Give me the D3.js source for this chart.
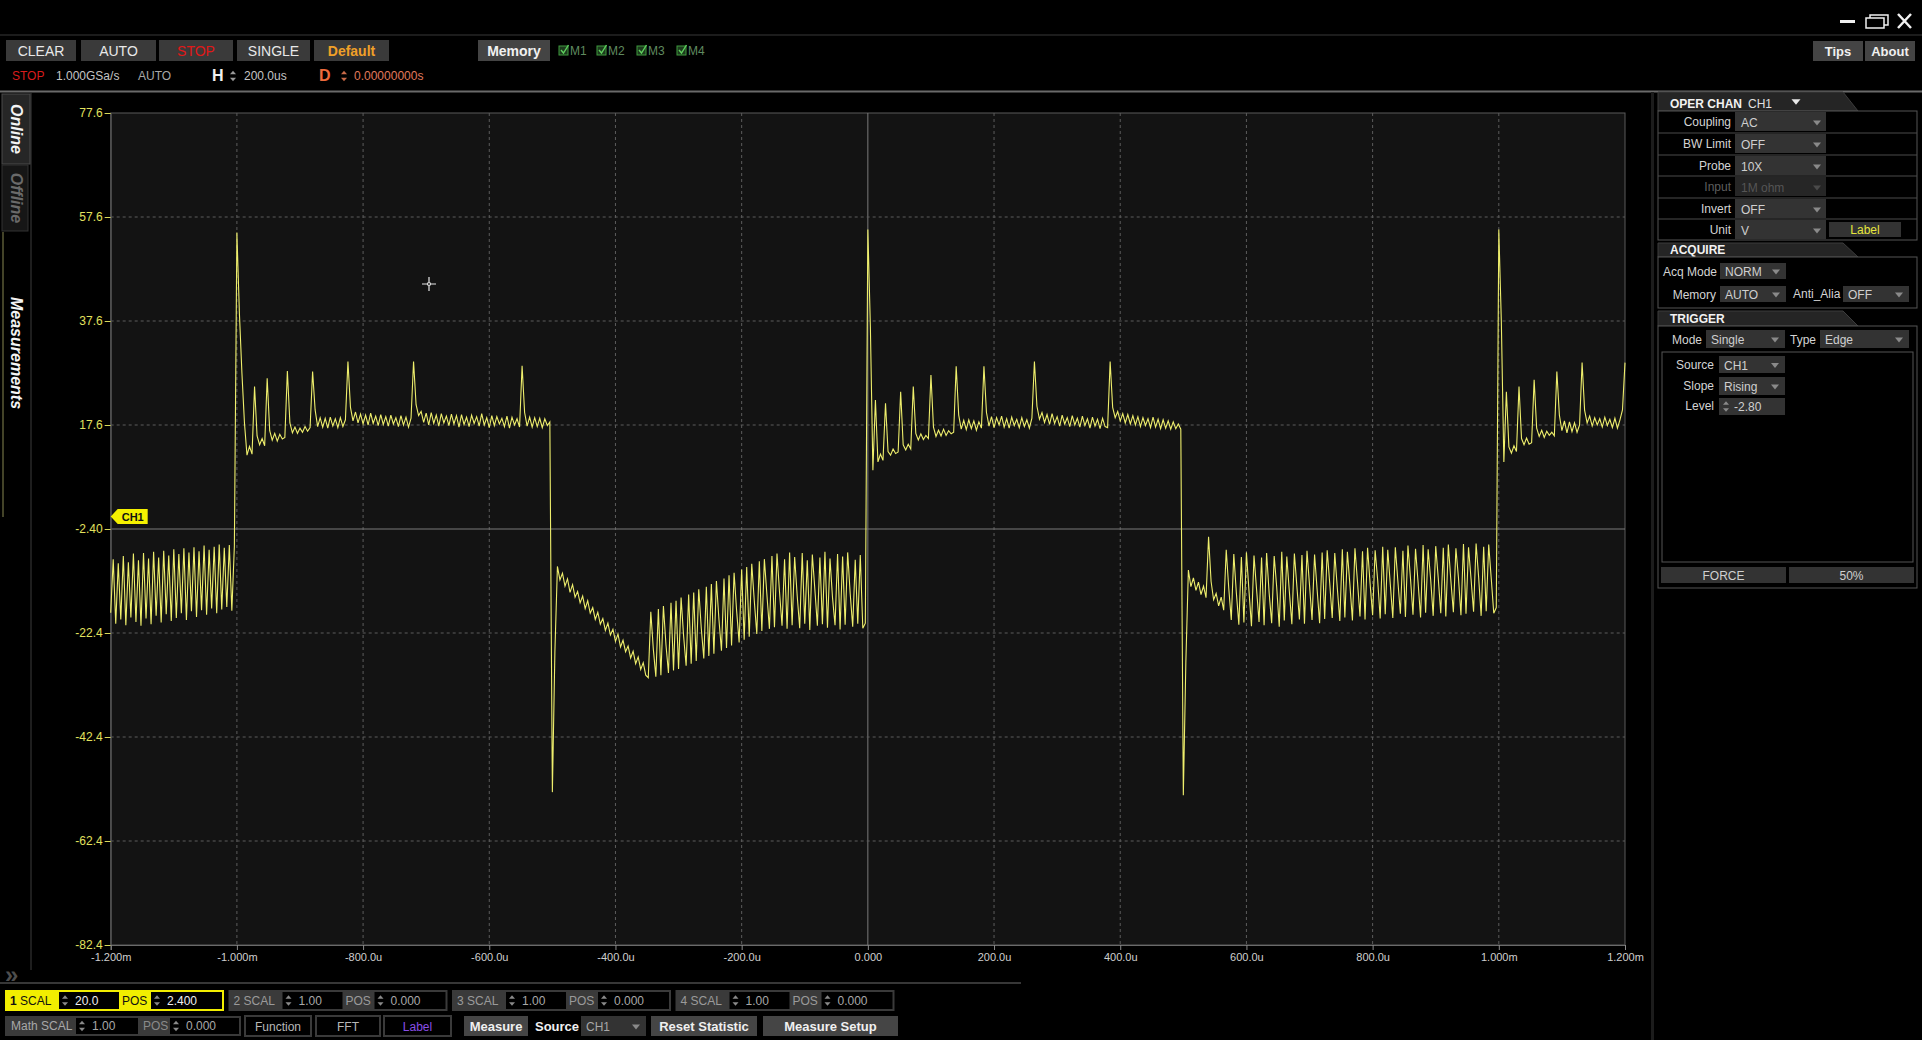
<!DOCTYPE html>
<html>
<head>
<meta charset="utf-8">
<script src="https://cdn.jsdelivr.net/npm/d3@7"></script>
<style>
html, body { margin: 0; padding: 0; background: #000; overflow: hidden; }
svg text { font-family: "Liberation Sans Narrow", "Arial Narrow", "Liberation Sans", sans-serif; }
</style>
</head>
<body>
<svg id="scope" width="1922" height="1040"></svg>
<script>
// ---- waveform samples (CH1, volts), one every 4us ----
var sampleStep = 4; // us
var lowA = [-18.5, -8.2, -20.6, -9.0, -19.8, -7.6, -20.9, -8.8, -19.4, -7.1,
  -20.3, -8.4, -21.0, -7.0, -19.6, -8.1, -20.7, -6.8, -19.1, -7.9,
  -20.4, -6.6, -18.8, -7.5, -20.1, -6.3, -19.5, -7.2, -18.6, -6.1,
  -19.9, -6.9, -18.2, -5.9, -19.3, -6.7, -18.0, -5.6, -18.9, -6.4,
  -17.7, -5.8, -18.6, -5.4, -17.9, -6.0, -17.4, -5.5, -18.1, -5.7];
var highB = [54.6, 39.0, 27.5, 18.0, 11.8, 13.5, 12.0, 25.0, 15.5, 13.8,
  15.0, 13.6, 26.6, 16.5, 14.7, 16.0, 14.5, 15.8, 14.9, 15.2,
  28.0, 18.0, 16.1, 17.2, 16.0, 17.0, 16.2, 17.3, 16.4, 17.1,
  27.9, 20.5, 17.3, 19.0, 17.2, 18.9, 17.0, 19.1, 17.4, 18.8,
  17.1, 19.0, 17.3, 18.6, 29.8,
  21.0, 18.4, 20.1, 18.0, 19.7, 17.8, 19.5, 17.6, 19.9, 17.9, 19.3, 17.5, 19.6,
  17.7, 19.2, 17.4, 19.5, 17.8, 19.0, 17.3, 19.4, 17.6, 19.1, 17.2, 18.9,
  29.8, 21.5, 19.4, 20.2,
  18.1, 19.9, 17.6, 20.0, 17.9, 19.5, 17.4, 19.8, 18.0, 19.3, 17.5, 19.7, 17.8,
  19.4, 17.2, 19.6, 17.7, 19.1, 17.3, 19.5, 17.9, 19.2, 17.4, 19.8, 17.6, 19.0,
  17.1, 19.4, 17.5, 19.2, 17.8, 18.9, 17.3, 19.3, 17.0, 19.1, 17.6, 18.8, 17.2,
  29.0, 20.0, 17.4, 19.1, 17.2, 19.0, 17.3, 18.9, 17.1, 18.8, 17.5, 18.2];
var lowC = [-53.0, -26.0, -9.6,
  -12.2, -10.9, -13.4, -12.0, -14.6, -13.1, -15.5, -14.4, -16.6, -15.3, -17.7, -16.2,
  -18.6, -17.5, -19.8, -18.4, -20.7, -19.6, -21.9, -20.5, -22.8, -21.7, -24.0, -22.6,
  -25.1, -23.8, -26.0, -24.9, -27.2, -25.9, -28.3, -27.0, -29.4, -28.1, -30.5, -31.0,
  -18.3, -25.5, -30.8, -17.8, -30.5, -17.2, -24.6, -30.1, -16.6, -29.6, -16.2, -29.3,
  -15.6, -23.0, -28.7, -15.0, -28.3, -14.6, -27.8, -14.0, -21.5, -27.3, -13.5, -26.8,
  -13.0, -26.4, -12.4, -19.8, -25.8, -11.9, -25.3, -11.3, -24.8, -10.8, -18.1, -24.2,
  -10.2, -23.7, -9.7, -23.1, -9.1, -16.2, -22.6, -8.6, -22.0, -8.2, -15.0, -21.6,
  -7.6, -21.3, -7.1, -14.5, -21.0, -8.2, -21.6, -6.9, -20.9, -7.8, -15.2, -21.5,
  -7.0, -20.6, -8.4, -21.8, -7.3, -14.0, -21.0, -7.9, -20.7, -6.8, -21.4,
  -8.1, -15.6, -20.9, -7.2, -21.7, -7.7, -20.8, -6.9, -14.8, -21.2, -8.3, -20.6,
  -7.4, -21.5,
  -20.5];
var highD = [55.2, 36.5, 8.9, 22.4, 10.5, 12.0, 10.8, 21.8, 12.5, 11.8,
  13.0, 12.1, 12.4, 24.0, 13.8, 12.8, 13.9, 13.0, 25.0, 16.0,
  14.7, 15.9, 14.8, 15.6, 15.0, 27.2, 17.2, 15.4, 16.6, 15.5,
  16.8, 15.6, 16.5, 15.9, 16.2, 28.9, 19.5, 16.8, 18.5, 16.7,
  18.6, 16.9, 18.4, 16.6, 18.2, 17.0, 28.9,
  20.0, 17.4, 19.2, 17.1, 19.0, 17.6, 19.3, 17.2, 18.8, 17.0, 19.1, 17.5, 18.7,
  17.1, 19.0, 17.3, 18.6, 17.0, 18.9,
  29.8,
  21.2, 18.7, 20.0, 18.1, 19.6, 17.7, 19.8, 17.9, 19.2, 17.4, 19.5, 17.8, 19.0,
  17.3, 19.4, 17.6, 18.9, 17.2, 19.3, 17.5, 18.8, 17.0, 19.1, 17.4, 18.7, 16.9,
  18.9, 17.3,
  17.1, 29.8,
  21.0, 19.0, 20.2, 18.4, 19.8, 18.0, 19.6, 17.8, 19.4, 17.6, 19.2, 17.3, 19.0,
  17.5, 18.8, 17.1, 19.1, 17.2, 18.7, 16.9, 18.6, 17.0, 18.4, 16.8, 18.2, 16.9, 17.8,
  16.8];
var lowE = [-53.6, -28.0, -10.3, -13.5, -11.8, -14.2, -12.6, -15.0, -13.4, -15.6,
  -3.9, -12.5, -16.0, -14.8, -17.2, -15.5, -18.0,
  -6.4, -13.8, -19.9, -7.2, -14.6, -20.8, -7.8, -20.4,
  -6.9, -14.2, -21.1, -7.5, -13.9, -20.3, -7.9, -20.9,
  -7.0, -14.7, -20.5, -7.6, -13.6, -21.2, -6.8, -20.0,
  -7.7, -14.4, -20.7, -7.1, -13.5, -19.8, -7.4, -20.6,
  -6.6, -13.2, -19.9, -7.3, -14.0, -20.5, -6.9, -19.7,
  -6.5, -12.8, -19.5, -7.0, -13.7, -20.1, -6.3, -19.4,
  -6.8, -13.1, -20.0, -6.1, -12.5, -19.2, -6.7, -19.8,
  -6.0, -12.9, -19.0, -6.5, -12.2, -19.6, -5.8, -18.8,
  -6.4, -13.0, -19.5, -5.9, -12.4, -18.7, -6.6, -19.3,
  -5.6, -11.9, -18.9, -6.2, -12.6, -19.4, -5.5, -18.5,
  -6.3, -12.1, -19.1, -5.7, -11.8, -18.6, -6.0, -19.2,
  -5.4, -12.3, -18.4, -6.1, -11.7, -19.0, -5.3, -18.7,
  -5.9, -12.0, -18.3, -5.2, -11.6, -19.1, -5.8, -18.2,
  -5.4, -11.9, -18.6,
  -17.5];
var highF = [55.2, 37.5, 10.5, 24.0, 13.4, 12.2, 13.6, 12.5, 25.0, 15.0,
  13.8, 15.1, 13.9, 14.2, 26.3, 17.0, 15.4, 16.6, 15.2, 16.4,
  15.6, 16.2, 15.5, 27.9, 19.5, 16.5, 18.4, 16.1, 18.2, 16.3,
  18.0, 16.2, 17.6, 29.6, 20.4, 18.0, 19.3, 17.4, 19.0, 17.6,
  18.8, 17.2, 19.1, 17.5, 18.7, 17.1, 18.9, 17.0, 18.6, 20.5, 29.6];
var segmentStarts = [-1200, -1000, -500, 0, 500, 1000]; // us
var segments = [lowA, highB, lowC, highD, lowE, highF];

// ---- axis ticks ----
var xTickValues = [-1200, -1000, -800, -600, -400, -200, 0, 200, 400, 600, 800, 1000, 1200];
var xTickLabels = ["-1.200m", "-1.000m", "-800.0u", "-600.0u", "-400.0u", "-200.0u", "0.000",
  "200.0u", "400.0u", "600.0u", "800.0u", "1.000m", "1.200m"];
var yTickValues = [77.6, 57.6, 37.6, 17.6, -2.4, -22.4, -42.4, -62.4, -82.4];
var yTickLabels = ["77.6", "57.6", "37.6", "17.6", "-2.40", "-22.4", "-42.4", "-62.4", "-82.4"];

var svg = d3.select("#scope");
var W = 1922, H = 1040;

// plot frame
var plotL = 110.7, plotR = 1625, plotT = 113, plotB = 945;
var x = d3.scaleLinear().domain([-1200, 1200]).range([plotL, plotR]);
var y = d3.scaleLinear().domain([-82.4, 77.6]).range([plotB, plotT]);

svg.append("rect").attr("width", W).attr("height", H).attr("fill", "#000");

// simple helpers for the instrument chrome
function rect(g, x0, y0, w, h, fill, stroke, sw) {
  return g.append("rect").attr("x", x0).attr("y", y0).attr("width", w).attr("height", h)
    .attr("fill", fill || "none").attr("stroke", stroke || "none").attr("stroke-width", sw || 1);
}
function txt(g, x0, y0, s, color, size, anchor, weight) {
  return g.append("text").attr("x", x0).attr("y", y0).text(s)
    .attr("fill", color).attr("font-size", size || 12)
    .attr("text-anchor", anchor || "start").attr("font-weight", weight || "normal");
}
function button(g, x0, y0, w, h, s, color, weight, bg, size) {
  rect(g, x0, y0, w, h, bg || "#3a3a3a");
  txt(g, x0 + w / 2, y0 + h / 2 + 5, s, color, size || 13, "middle", weight);
}
function tri(g, cx, cy, sz, color, up) {
  var d = up ? [[cx - sz, cy + sz * 0.6], [cx + sz, cy + sz * 0.6], [cx, cy - sz * 0.6]]
             : [[cx - sz, cy - sz * 0.6], [cx + sz, cy - sz * 0.6], [cx, cy + sz * 0.6]];
  g.append("path").attr("d", d3.line()(d) + "Z").attr("fill", color);
}
function dropdown(g, x0, y0, w, h, s, color, bg) {
  rect(g, x0, y0, w, h, bg || "#333");
  txt(g, x0 + 5, y0 + h / 2 + 5, s, color || "#cfcfcf", 12);
  tri(g, x0 + w - 10, y0 + h / 2 + 1, 4, "#8a8a8a", false);
}
function spinner(g, cx, cy, color) {
  tri(g, cx, cy - 3.5, 3, color, true);
  tri(g, cx, cy + 3.5, 3, color, false);
}

// ---- title bar ----
var hdr = svg.append("g");
hdr.append("line").attr("x1", 0).attr("x2", W).attr("y1", 35).attr("y2", 35).attr("stroke", "#1c1c1c").attr("stroke-width", 2);
rect(hdr, 1840, 20, 15, 3, "#f0f0f0");
rect(hdr, 1866, 18, 18, 10, "none", "#f0f0f0", 1.5);
hdr.append("path").attr("d", "M1870,18 V15 H1888 V25 H1884").attr("fill", "none").attr("stroke", "#f0f0f0").attr("stroke-width", 1.5);
hdr.append("path").attr("d", "M1898,14 L1911,28 M1911,14 L1898,28").attr("stroke", "#f0f0f0").attr("stroke-width", 2.5);

// ---- control buttons ----
button(hdr, 6, 40, 70, 21, "CLEAR", "#e8e8e8", "normal", null, 14);
button(hdr, 81, 40, 75, 21, "AUTO", "#e8e8e8", "normal", null, 14);
button(hdr, 159, 40, 74, 21, "STOP", "#e01818", "normal", null, 14);
button(hdr, 237, 40, 73, 21, "SINGLE", "#e8e8e8", "normal", null, 14);
button(hdr, 314, 40, 75, 21, "Default", "#f0a028", "bold", null, 14);
button(hdr, 478, 40, 72, 21, "Memory", "#f0f0f0", "bold", "#444", 14);
[["M1", 559], ["M2", 597], ["M3", 637], ["M4", 677]].forEach(function(m) {
  rect(hdr, m[1], 46, 9, 9, "#1d3a1d", "#3f9a3f", 1);
  hdr.append("path").attr("d", "M" + (m[1] + 2) + ",50 l2.5,3 l5,-8").attr("fill", "none").attr("stroke", "#5fd05f").attr("stroke-width", 1.4);
  txt(hdr, m[1] + 11, 55, m[0], "#5f8a5f", 12);
});
button(hdr, 1813, 41, 50, 20, "Tips", "#f0f0f0", "bold", "#444");
button(hdr, 1865, 41, 50, 20, "About", "#f0f0f0", "bold", "#444");

// status row
txt(hdr, 12, 80, "STOP", "#d81c1c", 12);
txt(hdr, 56, 80, "1.000GSa/s", "#c4c4c4", 12);
txt(hdr, 138, 80, "AUTO", "#a8a8a8", 12);
txt(hdr, 212, 81, "H", "#f0f0f0", 16, "start", "bold");
spinner(hdr, 233, 76, "#9a9a9a");
txt(hdr, 244, 80, "200.0us", "#c4c4c4", 12);
txt(hdr, 319, 81, "D", "#ec6a3c", 16, "start", "bold");
spinner(hdr, 344, 76, "#c86a48");
txt(hdr, 354, 80, "0.00000000s", "#e07a5c", 12);

hdr.append("line").attr("x1", 0).attr("x2", W).attr("y1", 91.5).attr("y2", 91.5).attr("stroke", "#6a6a6a").attr("stroke-width", 2);

// ---- left tab column ----
var side = svg.append("g");
side.append("line").attr("x1", 31).attr("x2", 31).attr("y1", 93).attr("y2", 970).attr("stroke", "#1e1e1e").attr("stroke-width", 2);
rect(side, 2, 94, 28, 70, "#262626", "#4a4a4a");
rect(side, 2, 165, 26, 66, "#161616", "#333");
side.append("line").attr("x1", 3).attr("x2", 3).attr("y1", 232).attr("y2", 517).attr("stroke", "#5a5a36").attr("stroke-width", 1.5);
txt(side, 0, 0, "Online", "#f4f4f4", 16, "middle", "bold").attr("font-style", "italic")
  .attr("transform", "translate(11,129) rotate(90)");
txt(side, 0, 0, "Offline", "#6a6a6a", 16, "middle", "bold").attr("font-style", "italic")
  .attr("transform", "translate(11,198) rotate(90)");
txt(side, 0, 0, "Measurements", "#f4f4f4", 16, "middle", "bold").attr("font-style", "italic")
  .attr("transform", "translate(11,353) rotate(90)");

// ---- plot ----
var plot = svg.append("g");
rect(plot, plotL, plotT, plotR - plotL, plotB - plotT, "#131313", "#5a5a5a", 1);

plot.selectAll("line.vgrid").data(xTickValues.filter(function(d) { return d > -1200 && d < 1200; }))
  .enter().append("line").attr("class", "vgrid")
  .attr("x1", function(d) { return x(d); }).attr("x2", function(d) { return x(d); })
  .attr("y1", plotT).attr("y2", plotB)
  .attr("stroke", function(d) { return d === 0 ? "#7a7a7a" : "#5c5c5c"; })
  .attr("stroke-dasharray", function(d) { return d === 0 ? null : "3,3"; });
plot.selectAll("line.hgrid").data(yTickValues.filter(function(d) { return d > -82.4 && d < 77.6; }))
  .enter().append("line").attr("class", "hgrid")
  .attr("x1", plotL).attr("x2", plotR)
  .attr("y1", function(d) { return y(d); }).attr("y2", function(d) { return y(d); })
  .attr("stroke", function(d) { return d === -2.4 ? "#7a7a7a" : "#5c5c5c"; })
  .attr("stroke-dasharray", function(d) { return d === -2.4 ? null : "3,3"; });

var yAxis = d3.axisLeft(y).tickValues(yTickValues).tickSize(6).tickPadding(2)
  .tickFormat(function(d, i) { return yTickLabels[i]; });
var yg = plot.append("g").attr("transform", "translate(" + plotL + ",0)").call(yAxis);
yg.select(".domain").attr("stroke", "#5a5a5a");
yg.selectAll(".tick line").attr("stroke", "#d8d85a");
yg.selectAll(".tick text").attr("fill", "#e2e25e").attr("font-size", 12)
  .attr("font-family", "'Liberation Sans Narrow','Arial Narrow','Liberation Sans',sans-serif");

var xAxis = d3.axisBottom(x).tickValues(xTickValues).tickSize(5).tickPadding(3)
  .tickFormat(function(d, i) { return xTickLabels[i]; });
var xg = plot.append("g").attr("transform", "translate(0," + plotB + ")").call(xAxis);
xg.select(".domain").attr("stroke", "#6a6a6a");
xg.selectAll(".tick line").attr("stroke", "#8a8a8a");
xg.selectAll(".tick text").attr("fill", "#cfcfcf").attr("font-size", 11)
  .attr("font-family", "'Liberation Sans Narrow','Arial Narrow','Liberation Sans',sans-serif");

// waveform
var wave = [];
segments.forEach(function(seg, s) {
  seg.forEach(function(v, i) { wave.push({ t: segmentStarts[s] + i * sampleStep, v: v }); });
});
var line = d3.line().x(function(d) { return x(d.t); }).y(function(d) { return y(d.v); });
plot.append("path").datum(wave).attr("d", line).attr("fill", "none")
  .attr("stroke", "#eeee6c").attr("stroke-width", 1.1).attr("stroke-linejoin", "miter");

// CH1 ground marker
var gy = y(0);
plot.append("path").attr("d", "M" + plotL + "," + gy + " l7,-7.5 h30 v15 h-30 Z").attr("fill", "#f4f000");
txt(plot, plotL + 22, gy + 4.5, "CH1", "#111", 11, "middle", "bold");

// cursor
var cur = plot.append("g").attr("transform", "translate(429,284)").attr("stroke", "#e8e8e8").attr("stroke-width", 1.2).attr("fill", "none");
cur.append("path").attr("d", "M-7,0 H-2 M2,0 H7 M0,-7 V-2 M0,2 V7");
cur.append("circle").attr("r", 1.5);

// ---- right settings panel ----
var pan = svg.append("g");
rect(pan, 1651, 92, 3, H - 92, "#1c1c1c");
function tabHeader(y0, y1, label) {
  pan.append("path").attr("d", "M1658," + y1 + " V" + y0 + " H1843 L1858," + y1 + " Z")
    .attr("fill", "#252525").attr("stroke", "#3c3c3c");
  txt(pan, 1670, y1 - 3, label, "#f2f2f2", 12, "start", "bold");
}
tabHeader(92, 111, "OPER CHAN");
txt(pan, 1748, 108, "CH1", "#e0e0e0", 12);
tri(pan, 1796, 102, 4.5, "#e8e8e8", false);
rect(pan, 1658, 111, 259, 129, "#000", "#555");
var rowTop = [111, 133, 155, 176, 198, 219];
var rowLabels = ["Coupling", "BW Limit", "Probe", "Input", "Invert", "Unit"];
var rowValues = ["AC", "OFF", "10X", "1M ohm", "OFF", "V"];
rowTop.forEach(function(r, i) {
  if (i > 0) pan.append("line").attr("x1", 1658).attr("x2", 1917).attr("y1", r).attr("y2", r).attr("stroke", "#4a4a4a");
  var dis = rowLabels[i] === "Input";
  txt(pan, 1731, r + 15, rowLabels[i], dis ? "#5e5e5e" : "#d4d4d4", 12, "end");
  rect(pan, 1735, r + 1, 91, 19, dis ? "#262626" : "#333");
  txt(pan, 1741, r + 16, rowValues[i], dis ? "#555" : "#cfcfcf", 12);
  tri(pan, 1817, r + 12, 4, dis ? "#4a4a4a" : "#8a8a8a", false);
});
rect(pan, 1829, 222, 72, 15, "#333");
txt(pan, 1865, 234, "Label", "#e6e63c", 12, "middle");

tabHeader(243, 257, "ACQUIRE");
rect(pan, 1658, 257, 259, 51, "#000", "#555");
txt(pan, 1663, 276, "Acq Mode", "#d4d4d4", 12);
dropdown(pan, 1720, 263, 66, 16, "NORM");
txt(pan, 1716, 299, "Memory", "#d4d4d4", 12, "end");
dropdown(pan, 1720, 286, 66, 16, "AUTO");
txt(pan, 1793, 298, "Anti_Alia", "#d4d4d4", 12);
dropdown(pan, 1843, 286, 66, 16, "OFF");

tabHeader(311, 326, "TRIGGER");
rect(pan, 1658, 326, 259, 262, "#000", "#555");
txt(pan, 1672, 344, "Mode", "#d4d4d4", 12);
dropdown(pan, 1706, 330, 79, 18, "Single");
txt(pan, 1790, 344, "Type", "#d4d4d4", 12);
dropdown(pan, 1820, 330, 89, 18, "Edge");
rect(pan, 1662, 352, 251, 210, "#000", "#555");
txt(pan, 1714, 369, "Source", "#d4d4d4", 12, "end");
dropdown(pan, 1719, 356, 66, 17, "CH1");
txt(pan, 1714, 390, "Slope", "#d4d4d4", 12, "end");
dropdown(pan, 1719, 377, 66, 18, "Rising");
txt(pan, 1714, 410, "Level", "#d4d4d4", 12, "end");
rect(pan, 1719, 398, 66, 17, "#333");
spinner(pan, 1726, 406.5, "#8a8a8a");
txt(pan, 1734, 411, "-2.80", "#cfcfcf", 12);
button(pan, 1661, 567, 125, 16, "FORCE", "#d0d0d0", "normal", "#333", 12);
button(pan, 1789, 567, 125, 16, "50%", "#d0d0d0", "normal", "#333", 12);

// ---- bottom channel / measure bar ----
var bot = svg.append("g");
txt(bot, 5, 983, "\u00bb", "#4e4e4e", 24, "start", "bold");
bot.append("line").attr("x1", 0).attr("x2", 1021).attr("y1", 983).attr("y2", 983).attr("stroke", "#4a4a4a").attr("stroke-width", 1.5);

var chanScale = ["20.0", "1.00", "1.00", "1.00"];
var chanPos = ["2.400", "0.000", "0.000", "0.000"];
chanScale.forEach(function(sc, i) {
  var gx = 5 + i * 223.5, r0 = 990, h = 21, on = i === 0;
  rect(bot, gx, r0, 219, h, on ? "#f2ee00" : "#3a3a3a");
  var lab = on ? "#111" : "#9a9a9a", val = on ? "#f0f0f0" : "#a8a8a8";
  txt(bot, gx + 5, r0 + 15, (i + 1) + "", lab, 12, "start", on ? "bold" : "normal");
  txt(bot, gx + 15, r0 + 15, "SCAL", lab, 12);
  rect(bot, gx + 54, r0 + 2, 60, h - 4, "#000");
  spinner(bot, gx + 60, r0 + 10.5, "#8a8a8a");
  txt(bot, gx + 70, r0 + 15, sc, val, 12);
  txt(bot, gx + 117, r0 + 15, "POS", lab, 12);
  rect(bot, gx + 146, r0 + 2, 71, h - 4, "#000");
  spinner(bot, gx + 152, r0 + 10.5, "#8a8a8a");
  txt(bot, gx + 162, r0 + 15, chanPos[i], val, 12);
});

var r1 = 1016;
rect(bot, 5, r1, 236, 20, "#3a3a3a");
txt(bot, 11, r1 + 14, "Math SCAL", "#a8a8a8", 12);
rect(bot, 76, r1 + 2, 62, 16, "#000");
spinner(bot, 82, r1 + 10, "#8a8a8a");
txt(bot, 92, r1 + 14, "1.00", "#a8a8a8", 12);
txt(bot, 143, r1 + 14, "POS", "#8a8a8a", 12);
rect(bot, 170, r1 + 2, 69, 16, "#000");
spinner(bot, 176, r1 + 10, "#8a8a8a");
txt(bot, 186, r1 + 14, "0.000", "#a8a8a8", 12);
[["Function", 245, 66, "#b8b8b8"], ["FFT", 316, 64, "#b8b8b8"], ["Label", 384, 67, "#8a4ee6"]].forEach(function(b) {
  rect(bot, b[1], r1, b[2], 20, "#000", "#3a3a3a", 2);
  txt(bot, b[1] + b[2] / 2, r1 + 15, b[0], b[3], 12, "middle");
});
button(bot, 464, r1, 64, 20, "Measure", "#f0f0f0", "bold", "#454545");
txt(bot, 535, r1 + 15, "Source", "#f0f0f0", 13, "start", "bold");
dropdown(bot, 581, r1, 65, 20, "CH1", "#a8a8a8");
button(bot, 651, r1, 106, 20, "Reset  Statistic", "#f0f0f0", "bold", "#454545");
button(bot, 763, r1, 135, 20, "Measure Setup", "#f0f0f0", "bold", "#454545");
</script>
</body>
</html>
